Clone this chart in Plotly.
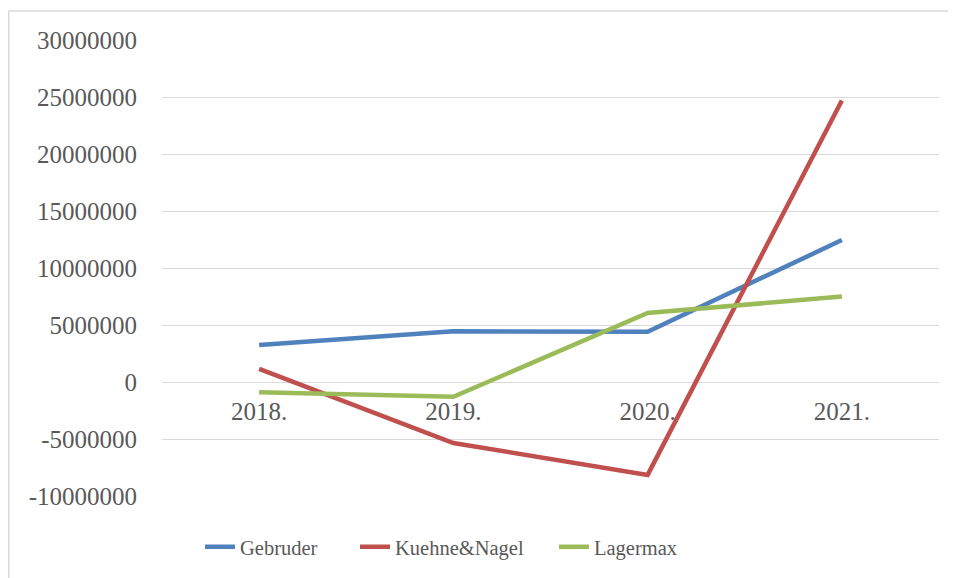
import plotly.graph_objects as go

years = ["2018.", "2019.", "2020.", "2021."]
gebruder = [3250000, 4450000, 4400000, 12450000]
kuehne_nagel = [1150000, -5350000, -8150000, 24700000]
lagermax = [-900000, -1300000, 6050000, 7500000]

y_tick_vals = [-10000000, -5000000, 0, 5000000, 10000000, 15000000, 20000000, 25000000, 30000000]
y_tick_text = ["-10000000", "-5000000", "0", "5000000", "10000000", "15000000", "20000000", "25000000", "30000000"]

series = [
    ("Gebruder", gebruder, "#4F81BD", "legend"),
    ("Kuehne&Nagel", kuehne_nagel, "#C0504D", "legend2"),
    ("Lagermax", lagermax, "#9BBB59", "legend3"),
]

fig = go.Figure()
for name, vals, color, lg in series:
    fig.add_trace(go.Scatter(x=years, y=vals, name=name, mode="lines", legend=lg,
                             line=dict(color=color, width=4.5)))

ymin, ymax = -10000000, 30000000
font = "Liberation Serif"
tc = "#595959"

# page is offset by the 8px body margin
OFF = 8
W, H = 956 - OFF, 578 - OFF
L, T = 162 - OFF, 39.5 - OFF
R = W - (939 - OFF)
B = H - (496 - OFF)
pw = W - L - R
ph = H - T - B


def leg(left_px):
    return dict(orientation="h", x=(left_px - OFF - L) / pw, xanchor="left",
                y=(H - B - (547 - OFF)) / ph, yanchor="middle",
                font=dict(size=20.5, family=font, color=tc),
                itemwidth=30, bgcolor="rgba(0,0,0,0)")


bx0 = (0.75 - L) / pw
bx1 = (W + 20 - L) / pw
by0 = (-(H - T - ph) - 20) / ph - (0 if False else 0)
by0 = -(B + 20) / ph
by1 = 1 + (T - 2.5) / ph
border = dict(color="#D9D9D9", width=1.5)

fig.update_layout(
    width=W, height=H,
    margin=dict(l=L, r=R, t=T, b=B, autoexpand=False),
    paper_bgcolor="white", plot_bgcolor="white",
    font=dict(family=font, color=tc),
    showlegend=True,
    legend=leg(200), legend2=leg(355), legend3=leg(554),
    xaxis=dict(type="category", range=[-0.5, 3.5], showgrid=False, showline=False,
               zeroline=False, automargin=False,
               anchor="free", position=(0 - ymin) / (ymax - ymin),
               tickfont=dict(size=25, family=font, color=tc), ticks="",
               ticklabelstandoff=12),
    yaxis=dict(range=[ymin, ymax], tickvals=y_tick_vals, ticktext=y_tick_text,
               showgrid=True, gridcolor="#D9D9D9", gridwidth=1, automargin=False,
               zeroline=True, zerolinecolor="#D9D9D9", zerolinewidth=1,
               showline=False, ticks="", ticklabelstandoff=24,
               tickfont=dict(size=25, family=font, color=tc)),
    shapes=[
        dict(type="line", xref="paper", yref="paper", x0=bx0, x1=bx1, y0=by1, y1=by1,
             line=border, layer="below"),
        dict(type="line", xref="paper", yref="paper", x0=bx0, x1=bx0, y0=by0, y1=by1,
             line=border, layer="below"),
    ],
)

fig.write_html("out.html")
